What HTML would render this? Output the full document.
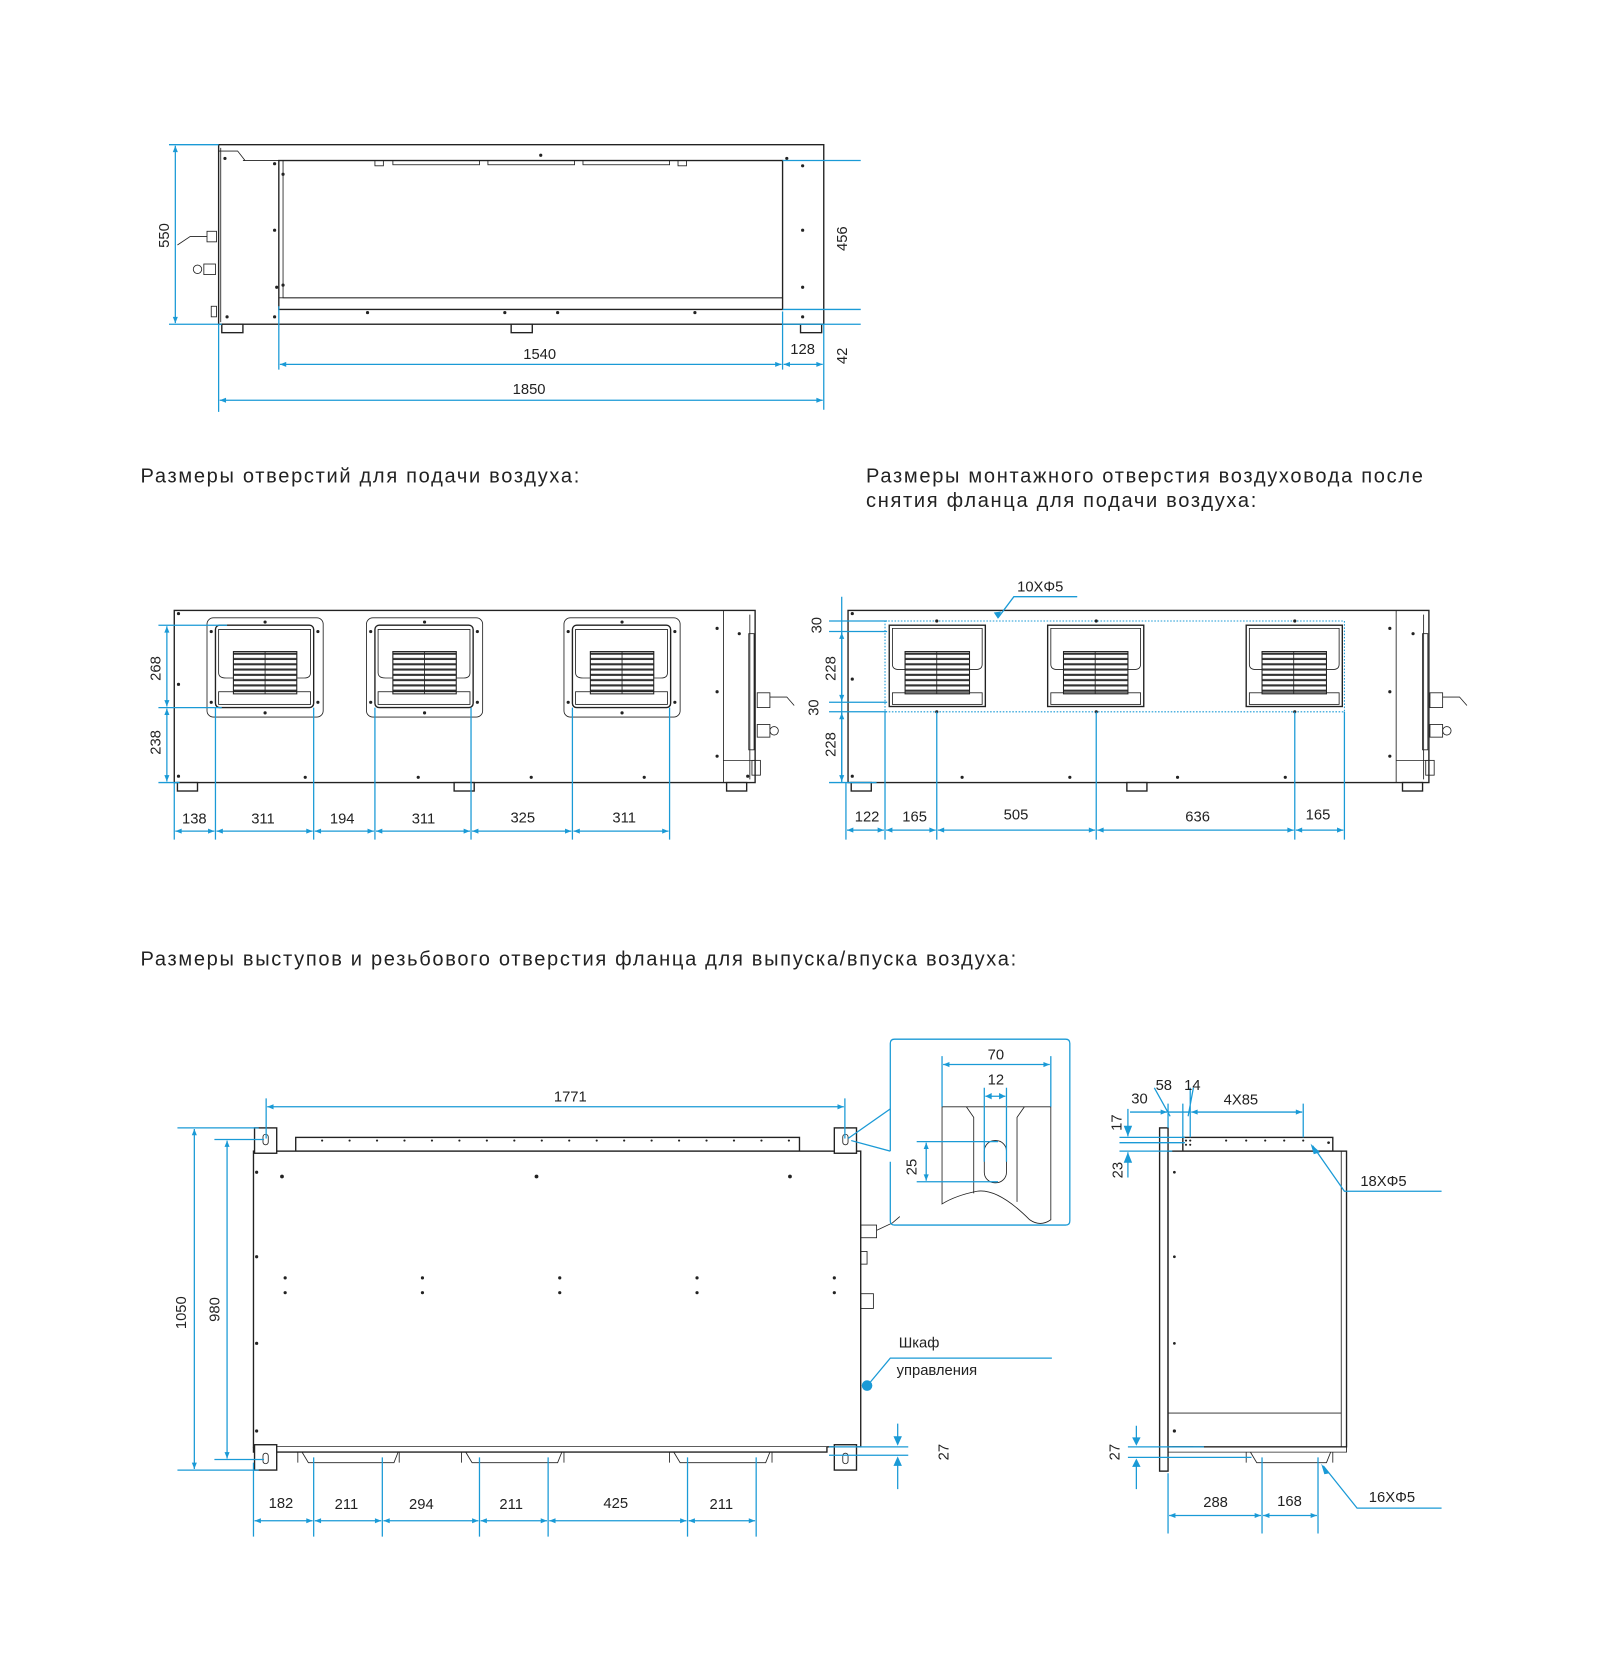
<!DOCTYPE html>
<html><head><meta charset="utf-8"><style>
html,body{margin:0;padding:0;background:#fff;}
svg{display:block;}
text{font-family:"Liberation Sans",sans-serif;fill:#222;}
.b{stroke:#1a9ad6;stroke-width:1.2;fill:none;}
.a{stroke:#1a9ad6;stroke-width:1.2;fill:none;marker-start:url(#ar);marker-end:url(#ar);}
.k{stroke:#222;stroke-width:1.3;fill:#fff;}
.t{stroke:#222;stroke-width:0.8;fill:none;}
.d{font-size:14px;text-anchor:middle;}
.h{font-size:19px;letter-spacing:1.6px;}
</style></head><body>
<svg width="1600" height="1657" viewBox="0 0 1515 1569" xmlns="http://www.w3.org/2000/svg">
<defs>
<marker id="ar" viewBox="0 0 10 10" refX="10" refY="5" markerWidth="9" markerHeight="6" orient="auto-start-reverse" markerUnits="userSpaceOnUse"><path d="M0,1 L10,5 L0,9 z" fill="#1a9ad6"/></marker>
<pattern id="gr" width="10" height="5" patternUnits="userSpaceOnUse"><rect width="10" height="5" fill="#fff"/><rect y="3" width="10" height="2" fill="#333"/></pattern>
</defs>

<!-- ===== TOP DRAWING ===== -->
<rect x="207" y="137" width="573" height="170" class="k"/>
<path d="M209,140 V305 M230,152 H741" class="t"/>
<path d="M207,143 L225,143 L232,152" class="t"/>
<rect x="264" y="152" width="477" height="141" class="k"/>
<rect x="268" y="152" width="473" height="130" class="t"/>
<line x1="264" y1="282" x2="741" y2="282" class="t"/>
<g class="t"><rect x="355" y="152" width="8" height="5"/><rect x="372" y="152" width="82" height="4"/><rect x="462" y="152" width="82" height="4"/><rect x="552" y="152" width="82" height="4"/><rect x="642" y="152" width="8" height="5"/></g>
<g class="k"><rect x="210" y="307" width="20" height="8"/><rect x="484" y="307" width="20" height="8"/><rect x="758" y="307" width="20" height="8"/></g>
<g class="t"><rect x="196" y="219" width="9" height="10"/><path d="M196,224 L180,224 L168,232"/><rect x="193" y="250" width="11" height="10"/><circle cx="187" cy="255" r="4"/><rect x="200" y="290" width="5" height="10"/></g>
<g fill="#222"><circle cx="213" cy="150" r="1.5"/><circle cx="260" cy="155" r="1.5"/><circle cx="260" cy="218" r="1.5"/><circle cx="262" cy="272" r="1.5"/><circle cx="215" cy="300" r="1.5"/><circle cx="260" cy="300" r="1.5"/><circle cx="760" cy="157" r="1.5"/><circle cx="760" cy="218" r="1.5"/><circle cx="760" cy="272" r="1.5"/><circle cx="760" cy="300" r="1.5"/><circle cx="348" cy="296" r="1.5"/><circle cx="478" cy="296" r="1.5"/><circle cx="528" cy="296" r="1.5"/><circle cx="658" cy="296" r="1.5"/><circle cx="512" cy="147" r="1.5"/><circle cx="745" cy="150" r="1.5"/><circle cx="268" cy="165" r="1.5"/><circle cx="268" cy="270" r="1.5"/></g>
<path class="b" d="M160,137 H207 M160,307 H210 M741,152 H815 M741,293 H815 M741,307 H815 M264,290 V350 M741,295 V350 M780,307 V388 M207,307 V390"/>
<line x1="166" y1="138" x2="166" y2="306" class="a"/>
<line x1="265" y1="345" x2="740" y2="345" class="a"/>
<line x1="742" y1="345" x2="779" y2="345" class="a"/>
<line x1="208" y1="379" x2="779" y2="379" class="a"/>
<text class="d" transform="translate(160,223) rotate(-90)">550</text>
<text class="d" transform="translate(802,226) rotate(-90)">456</text>
<text class="d" transform="translate(802,337) rotate(-90)">42</text>
<text class="d" x="511" y="340">1540</text>
<text class="d" x="760" y="335">128</text>
<text class="d" x="501" y="373">1850</text>

<!-- headings -->
<text class="h" x="133" y="457">Размеры отверстий для подачи воздуха:</text>
<text class="h" x="820" y="457">Размеры монтажного отверстия воздуховода после</text>
<text class="h" x="820" y="480">снятия фланца для подачи воздуха:</text>
<text class="h" x="133" y="914">Размеры выступов и резьбового отверстия фланца для выпуска/впуска воздуха:</text>

<!-- ===== MIDDLE LEFT ===== -->
<rect x="165" y="578" width="550" height="163" class="k"/>
<path d="M685,578 V741 M685,720 H715 M710,582 V738" class="t"/>
<rect x="709" y="600" width="5" height="110" class="t"/>
<g class="k"><rect x="168" y="741" width="19" height="8"/><rect x="430" y="741" width="19" height="8"/><rect x="688" y="741" width="19" height="8"/></g>
<g class="t"><rect x="717" y="656" width="12" height="14"/><path d="M729,660 L745,660 L752,668"/><rect x="717" y="686" width="12" height="12"/><circle cx="733" cy="692" r="4"/><rect x="712" y="720" width="8" height="14"/></g>
<g id="fl1">
<rect x="196" y="585" width="110" height="94" rx="6" class="t"/>
<rect x="204" y="592" width="93" height="78" rx="4" class="k" stroke-width="2"/>
<path d="M207,596 H294 V637 Q294,642 288,642 H281 V617 H221 V642 H214 Q207,642 207,637 Z" class="t"/>
<rect x="221" y="617" width="60" height="40" fill="url(#gr)" stroke="#222"/>
<line x1="251" y1="617" x2="251" y2="657" class="t"/>
<rect x="207" y="655" width="87" height="12" class="t"/>
</g>
<use href="#fl1" x="151"/>
<use href="#fl1" x="338"/>
<g fill="#222"><circle cx="169" cy="581" r="1.5"/><circle cx="169" cy="648" r="1.5"/><circle cx="169" cy="735" r="1.5"/><circle cx="679" cy="595" r="1.5"/><circle cx="679" cy="655" r="1.5"/><circle cx="679" cy="716" r="1.5"/><circle cx="289" cy="736" r="1.5"/><circle cx="396" cy="736" r="1.5"/><circle cx="503" cy="736" r="1.5"/><circle cx="610" cy="736" r="1.5"/><circle cx="708" cy="735" r="1.5"/><circle cx="700" cy="600" r="1.5"/>
<circle cx="251" cy="589" r="1.5"/><circle cx="251" cy="675" r="1.5"/><circle cx="402" cy="589" r="1.5"/><circle cx="402" cy="675" r="1.5"/><circle cx="589" cy="589" r="1.5"/><circle cx="589" cy="675" r="1.5"/>
<circle cx="200" cy="598" r="1.5"/><circle cx="301" cy="598" r="1.5"/><circle cx="200" cy="665" r="1.5"/><circle cx="301" cy="665" r="1.5"/><circle cx="351" cy="598" r="1.5"/><circle cx="452" cy="598" r="1.5"/><circle cx="351" cy="665" r="1.5"/><circle cx="452" cy="665" r="1.5"/><circle cx="538" cy="598" r="1.5"/><circle cx="639" cy="598" r="1.5"/><circle cx="538" cy="665" r="1.5"/><circle cx="639" cy="665" r="1.5"/></g>
<path class="b" d="M150,592 H215 M150,670 H210 M150,741 H170 M165,741 V795 M204,670 V795 M297,670 V795 M355,670 V795 M446,670 V795 M542,670 V795 M634,670 V795"/>
<line x1="158" y1="593" x2="158" y2="669" class="a"/>
<line x1="158" y1="671" x2="158" y2="740" class="a"/>
<g class="a"><line x1="166" y1="787" x2="203" y2="787"/><line x1="205" y1="787" x2="296" y2="787"/><line x1="298" y1="787" x2="354" y2="787"/><line x1="356" y1="787" x2="445" y2="787"/><line x1="447" y1="787" x2="541" y2="787"/><line x1="543" y1="787" x2="633" y2="787"/></g>
<text class="d" transform="translate(152,633) rotate(-90)">268</text>
<text class="d" transform="translate(152,703) rotate(-90)">238</text>
<text class="d" x="184" y="780">138</text><text class="d" x="249" y="780">311</text><text class="d" x="324" y="780">194</text><text class="d" x="401" y="780">311</text><text class="d" x="495" y="779">325</text><text class="d" x="591" y="779">311</text>

<!-- ===== MIDDLE RIGHT ===== -->
<rect x="803" y="578" width="550" height="163" class="k"/>
<path d="M1322,578 V741 M1322,720 H1352 M1348,582 V738" class="t"/>
<rect x="1347" y="600" width="5" height="110" class="t"/>
<g class="k"><rect x="806" y="741" width="19" height="8"/><rect x="1067" y="741" width="19" height="8"/><rect x="1328" y="741" width="19" height="8"/></g>
<g class="t"><rect x="1354" y="656" width="12" height="14"/><path d="M1366,660 L1382,660 L1389,668"/><rect x="1354" y="686" width="12" height="12"/><circle cx="1370" cy="692" r="4"/><rect x="1350" y="720" width="8" height="14"/></g>
<rect x="838" y="588" width="435" height="86" fill="none" stroke="#1a9ad6" stroke-width="1" stroke-dasharray="1.5,1.5"/>
<g id="fl2">
<rect x="842" y="592" width="91" height="77" class="k" stroke-width="1.6"/>
<path d="M845,595 H930 V629 Q930,634 924,634 H918 V617 H857 V634 H851 Q845,634 845,629 Z" class="t"/>
<rect x="857" y="617" width="61" height="40" fill="url(#gr)" stroke="#222"/>
<line x1="887" y1="617" x2="887" y2="657" class="t"/>
<rect x="845" y="656" width="85" height="11" class="t"/>
</g>
<use href="#fl2" x="150"/>
<use href="#fl2" x="338"/>
<g fill="#222"><circle cx="807" cy="581" r="1.5"/><circle cx="807" cy="643" r="1.5"/><circle cx="807" cy="735" r="1.5"/><circle cx="1316" cy="595" r="1.5"/><circle cx="1316" cy="655" r="1.5"/><circle cx="1316" cy="716" r="1.5"/><circle cx="911" cy="736" r="1.5"/><circle cx="1013" cy="736" r="1.5"/><circle cx="1115" cy="736" r="1.5"/><circle cx="1217" cy="736" r="1.5"/><circle cx="887" cy="588" r="1.5"/><circle cx="1038" cy="588" r="1.5"/><circle cx="1226" cy="588" r="1.5"/><circle cx="887" cy="674" r="1.5"/><circle cx="1038" cy="674" r="1.5"/><circle cx="1226" cy="674" r="1.5"/><circle cx="1338" cy="600" r="1.5"/></g>
<path class="b" d="M785,588 H840 M785,598 H840 M785,665 H840 M785,674 H840 M785,741 H830 M797,565 V741 M801,741 V795 M838,674 V795 M887,674 V795 M1038,674 V795 M1226,674 V795 M1273,674 V795 M1020,565 H960 L945,585"/>
<g class="a"><line x1="797" y1="599" x2="797" y2="664"/><line x1="797" y1="675" x2="797" y2="740"/>
<line x1="802" y1="786" x2="837" y2="786"/><line x1="839" y1="786" x2="886" y2="786"/><line x1="888" y1="786" x2="1037" y2="786"/><line x1="1039" y1="786" x2="1225" y2="786"/><line x1="1227" y1="786" x2="1272" y2="786"/></g>
<path d="M941,580 L945,586 L948,579 Z" fill="#1a9ad6"/>
<text class="d" transform="translate(778,592) rotate(-90)">30</text>
<text class="d" transform="translate(791,633) rotate(-90)">228</text>
<text class="d" transform="translate(775,670) rotate(-90)">30</text>
<text class="d" transform="translate(791,705) rotate(-90)">228</text>
<text class="d" x="985" y="560">10XΦ5</text>
<text class="d" x="821" y="778">122</text><text class="d" x="866" y="778">165</text><text class="d" x="962" y="776">505</text><text class="d" x="1134" y="778">636</text><text class="d" x="1248" y="776">165</text>

<!-- ===== BOTTOM LEFT ===== -->
<rect x="280" y="1077" width="477" height="13" class="k"/>
<rect x="240" y="1090" width="575" height="280" class="k"/>
<path d="M240,1370 V1375 H783 V1370" class="k"/>
<g class="k"><rect x="241" y="1068" width="21" height="24"/><rect x="241" y="1368" width="21" height="24"/><rect x="790" y="1068" width="21" height="24"/><rect x="790" y="1368" width="21" height="24"/></g>
<g class="t"><rect x="249" y="1074" width="5" height="10" rx="2.5"/><rect x="249" y="1376" width="5" height="10" rx="2.5"/><rect x="798" y="1074" width="5" height="10" rx="2.5"/><rect x="798" y="1376" width="5" height="10" rx="2.5"/>
<path d="M282,1375 V1385 M378,1375 V1385 M286,1375 L292,1385 H373 L377,1375 M437,1375 V1385 M534,1375 V1385 M441,1375 L447,1385 H528 L532,1375 M634,1375 V1385 M731,1375 V1385 M638,1375 L644,1385 H725 L729,1375"/>
<rect x="815" y="1160" width="15" height="12"/><rect x="815" y="1185" width="6" height="12"/><rect x="815" y="1225" width="12" height="14"/><path d="M830,1165 L845,1158 L852,1152"/></g>
<g fill="#222"><circle cx="267" cy="1114" r="1.8"/><circle cx="508" cy="1114" r="1.8"/><circle cx="748" cy="1114" r="1.8"/><circle cx="243" cy="1110" r="1.5"/><circle cx="243" cy="1190" r="1.5"/><circle cx="243" cy="1272" r="1.5"/><circle cx="243" cy="1355" r="1.5"/>
<circle cx="270" cy="1210" r="1.5"/><circle cx="270" cy="1224" r="1.5"/><circle cx="400" cy="1210" r="1.5"/><circle cx="400" cy="1224" r="1.5"/><circle cx="530" cy="1210" r="1.5"/><circle cx="530" cy="1224" r="1.5"/><circle cx="660" cy="1210" r="1.5"/><circle cx="660" cy="1224" r="1.5"/><circle cx="790" cy="1210" r="1.5"/><circle cx="790" cy="1224" r="1.5"/></g>
<g fill="#222"><circle cx="305" cy="1080" r="1"/><circle cx="331" cy="1080" r="1"/><circle cx="357" cy="1080" r="1"/><circle cx="383" cy="1080" r="1"/><circle cx="409" cy="1080" r="1"/><circle cx="435" cy="1080" r="1"/><circle cx="461" cy="1080" r="1"/><circle cx="487" cy="1080" r="1"/><circle cx="513" cy="1080" r="1"/><circle cx="539" cy="1080" r="1"/><circle cx="565" cy="1080" r="1"/><circle cx="591" cy="1080" r="1"/><circle cx="617" cy="1080" r="1"/><circle cx="643" cy="1080" r="1"/><circle cx="669" cy="1080" r="1"/><circle cx="695" cy="1080" r="1"/><circle cx="721" cy="1080" r="1"/><circle cx="747" cy="1080" r="1"/></g>
<path class="b" d="M252,1040 V1078 M800,1040 V1078 M168,1068 H245 M203,1079 H250 M203,1382 H250 M168,1392 H245 M240,1385 V1455 M297,1380 V1455 M362,1380 V1455 M454,1380 V1455 M519,1380 V1455 M651,1380 V1455 M716,1380 V1455 M785,1370 H860 M785,1378 H860 M850,1348 V1362 M850,1386 V1410"/>
<g class="a"><line x1="253" y1="1048" x2="799" y2="1048"/><line x1="184" y1="1069" x2="184" y2="1391"/><line x1="215" y1="1080" x2="215" y2="1381"/>
<line x1="241" y1="1440" x2="296" y2="1440"/><line x1="298" y1="1440" x2="361" y2="1440"/><line x1="363" y1="1440" x2="453" y2="1440"/><line x1="455" y1="1440" x2="518" y2="1440"/><line x1="520" y1="1440" x2="650" y2="1440"/><line x1="652" y1="1440" x2="715" y2="1440"/></g>
<path d="M846,1360 L850,1369 L854,1360 Z M846,1388 L850,1379 L854,1388 Z" fill="#1a9ad6"/>
<text class="d" x="540" y="1043">1771</text>
<text class="d" transform="translate(176,1243) rotate(-90)">1050</text>
<text class="d" transform="translate(208,1240) rotate(-90)">980</text>
<text class="d" transform="translate(898,1375) rotate(-90)">27</text>
<text class="d" x="266" y="1428">182</text><text class="d" x="328" y="1429">211</text><text class="d" x="399" y="1429">294</text><text class="d" x="484" y="1429">211</text><text class="d" x="583" y="1428">425</text><text class="d" x="683" y="1429">211</text>
<!-- detail box -->
<path d="M847,984 H1009 Q1013,984 1013,988 V1156 Q1013,1160 1009,1160 H847 Q843,1160 843,1156 V1100 M843,1090 V988 Q843,984 847,984" class="b"/>
<path class="b" d="M843,1050 L803,1078 M843,1090 L806,1080"/>
<path d="M892,1048 H995 V1155 Q985,1162 975,1155 Q945,1125 925,1128 Q905,1132 892,1140 Z" class="t" stroke-width="1.2"/>
<path d="M915,1048 L922,1058 V1130 M970,1048 L963,1058 V1138" class="t"/>
<rect x="932" y="1080" width="21" height="40" rx="10" class="t" stroke-width="1.2"/>
<path class="b" d="M892,1000 V1048 M995,1000 V1048 M932,1030 V1100 M953,1030 V1100 M868,1081 H945 M868,1119 H945"/>
<g class="a"><line x1="893" y1="1008" x2="994" y2="1008"/><line x1="877" y1="1082" x2="877" y2="1118"/></g>
<path d="M933,1038 H952" class="b"/><path d="M933,1038 L939,1035 V1041 Z M952,1038 L946,1035 V1041 Z" fill="#1a9ad6"/>
<text class="d" x="943" y="1003">70</text><text class="d" x="943" y="1027">12</text>
<text class="d" transform="translate(868,1105) rotate(-90)">25</text>
<!-- Шкаф -->
<path class="b" d="M823,1310 L843,1286 H996"/>
<circle cx="821" cy="1312" r="5" fill="#1a9ad6"/>
<text x="851" y="1276" font-size="14">Шкаф</text>
<text x="849" y="1302" font-size="14">управления</text>

<!-- ===== BOTTOM RIGHT ===== -->
<rect x="1098" y="1068" width="8" height="325" class="k"/>
<rect x="1120" y="1077" width="142" height="13" class="k"/>
<rect x="1106" y="1090" width="169" height="280" class="k"/>
<path d="M1106,1338 H1270 M1270,1090 V1370 M1106,1375 H1275 V1370 M1110,1370 H1130" class="t"/>
<path d="M1180,1375 V1385 M1262,1375 V1385 M1184,1375 L1190,1385 H1256 L1260,1375" class="t"/>
<g fill="#222"><circle cx="1112" cy="1110" r="1.3"/><circle cx="1112" cy="1190" r="1.3"/><circle cx="1112" cy="1272" r="1.3"/><circle cx="1112" cy="1355" r="1.5"/><circle cx="1123" cy="1080" r="1"/><circle cx="1127" cy="1080" r="1"/><circle cx="1123" cy="1084" r="1"/><circle cx="1127" cy="1084" r="1"/><circle cx="1161" cy="1080" r="1"/><circle cx="1180" cy="1080" r="1"/><circle cx="1198" cy="1080" r="1"/><circle cx="1216" cy="1080" r="1"/><circle cx="1234" cy="1080" r="1"/><circle cx="1258" cy="1082" r="1.3"/></g>
<path class="b" d="M1106,1045 V1068 M1120,1045 V1077 M1127,1030 V1077 M1234,1045 V1077 M1060,1077 H1122 M1060,1082 H1122 M1060,1090 H1110 M1068,1050 V1076 M1068,1091 V1115 M1093,1030 L1108,1057 M1130,1030 L1125,1057 M1068,1370 H1140 M1068,1380 H1185 M1076,1350 V1363 M1076,1387 V1410 M1106,1395 V1452 M1195,1380 V1452 M1248,1380 V1452 M1243,1085 L1273,1128 H1365 M1253,1388 L1285,1428 H1365"/>
<line x1="1070" y1="1053" x2="1105" y2="1053" class="b" marker-end="url(#ar)"/>
<line x1="1106" y1="1053" x2="1127" y2="1053" class="b"/>
<line x1="1128" y1="1053" x2="1233" y2="1053" class="a"/>
<g class="a"><line x1="1107" y1="1435" x2="1194" y2="1435"/><line x1="1196" y1="1435" x2="1247" y2="1435"/></g>
<path d="M1064,1066 L1068,1076 L1072,1066 Z M1064,1101 L1068,1091 L1072,1101 Z M1072,1361 L1076,1369 L1080,1361 Z M1072,1389 L1076,1381 L1080,1389 Z M1241,1083 L1250,1091 L1244,1093 Z M1251,1386 L1259,1395 L1254,1396 Z" fill="#1a9ad6"/>
<text class="d" x="1079" y="1045">30</text><text class="d" x="1102" y="1032">58</text><text class="d" x="1129" y="1032">14</text><text class="d" x="1175" y="1046">4X85</text>
<text class="d" transform="translate(1062,1063) rotate(-90)">17</text>
<text class="d" transform="translate(1063,1108) rotate(-90)">23</text>
<text class="d" transform="translate(1060,1375) rotate(-90)">27</text>
<text class="d" x="1310" y="1123">18XΦ5</text>
<text class="d" x="1318" y="1422">16XΦ5</text>
<text class="d" x="1151" y="1427">288</text><text class="d" x="1221" y="1426">168</text>
</svg>
</body></html>
